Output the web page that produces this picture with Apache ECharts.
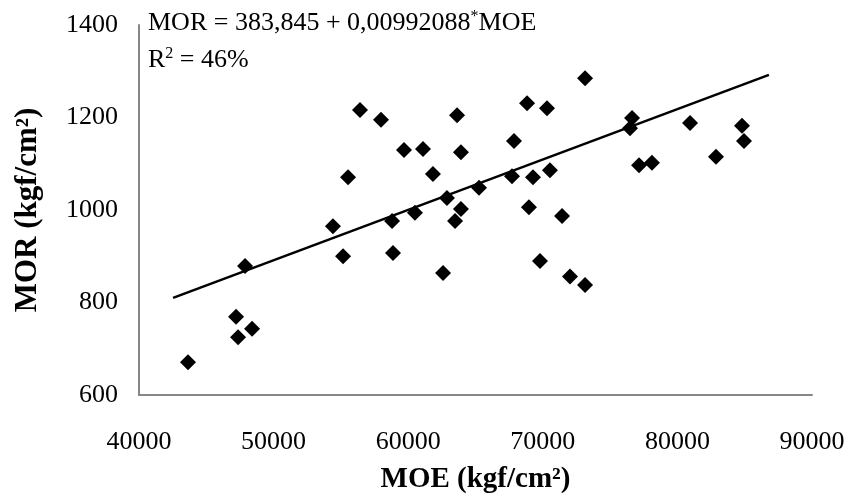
<!DOCTYPE html>
<html>
<head>
<meta charset="utf-8">
<script src="https://cdn.jsdelivr.net/npm/echarts@6/dist/echarts.min.js"></script>
<style>html,body{margin:0;padding:0;background:#fff}#c{width:852px;height:504px}</style>
</head>
<body>
<div id="c"></div>
<script>
// MOE (kgf/cm²) values
const moe = [43640, 47210, 47360, 48400, 47880, 54410, 55160, 55530, 56420, 57980,
  58800, 58870, 59690, 60500, 61100, 61840, 62590, 62880, 63480, 63630,
  63920, 63920, 65260, 67710, 67860, 68830, 68970, 69270, 69790, 70310,
  70530, 71430, 72020, 73140, 73140, 76630, 76480, 77150, 78110, 80940,
  82870, 84800, 84950];
// MOR (kgf/cm²) values
const mor = [671, 769, 725, 743, 879, 965, 900, 1071, 1216, 1195,
  976, 907, 1130, 994, 1132, 1078, 864, 1026, 976, 1205,
  1002, 1125, 1048, 1073, 1149, 1231, 1006, 1071, 890, 1220,
  1086, 987, 856, 838, 1285, 1199, 1177, 1097, 1102, 1188,
  1115, 1182, 1149];
// trend line end points as drawn
const trendX = [42530, 86800];
const trendY = [810, 1292];
const xTicks = [40000, 50000, 60000, 70000, 80000, 90000];
const yTicks = [600, 800, 1000, 1200, 1400];
const equationText = ['MOR = 383,845 + 0,00992088', '*', 'MOE'];
const r2Text = ['R', '2', ' = 46%'];

const font = '"Liberation Serif", "Times New Roman", serif';
const chart = echarts.init(document.getElementById('c'), null, {renderer: 'canvas'});
chart.setOption({
  backgroundColor: '#fff',
  animation: false,
  grid: {left: 139, right: 40, top: 25, bottom: 109, containLabel: false},
  xAxis: {
    type: 'value', min: xTicks[0], max: xTicks[xTicks.length - 1], interval: 10000,
    name: 'MOE (kgf/cm²)', nameLocation: 'middle', nameGap: 70,
    nameTextStyle: {fontFamily: font, fontSize: 29, fontWeight: 'bold', color: '#000'},
    axisLine: {show: true, lineStyle: {color: '#868686', width: 2}},
    axisTick: {show: false},
    splitLine: {show: false},
    axisLabel: {fontFamily: font, fontSize: 26, color: '#000', margin: 34,
      formatter: v => String(v)}
  },
  yAxis: {
    type: 'value', min: yTicks[0], max: yTicks[yTicks.length - 1], interval: 200,
    name: 'MOR (kgf/cm²)', nameLocation: 'middle', nameGap: 96, nameRotate: 90,
    nameTextStyle: {fontFamily: font, fontSize: 31, fontWeight: 'bold', color: '#000'},
    axisLine: {show: true, lineStyle: {color: '#868686', width: 2}},
    axisTick: {show: false},
    splitLine: {show: false},
    axisLabel: {fontFamily: font, fontSize: 26, color: '#000', margin: 21,
      formatter: v => String(v)}
  },
  graphic: [
    {
      type: 'text', left: 148, top: 9,
      style: {
        text: '{n|' + equationText[0] + '}{s|' + equationText[1] + '}{n|' + equationText[2] + '}',
        rich: {
          n: {fontFamily: font, fontSize: 26, fill: '#000'},
          s: {fontFamily: font, fontSize: 16, fill: '#000', padding: [0, 0, 12, 0]}
        }
      }
    },
    {
      type: 'text', left: 148, top: 46,
      style: {
        text: '{n|' + r2Text[0] + '}{s|' + r2Text[1] + '}{n|' + r2Text[2] + '}',
        rich: {
          n: {fontFamily: font, fontSize: 26, fill: '#000'},
          s: {fontFamily: font, fontSize: 16, fill: '#000', padding: [0, 0, 12, 0]}
        }
      }
    }
  ],
  series: [
    {
      type: 'line',
      data: trendX.map((x, i) => [x, trendY[i]]),
      symbol: 'none',
      lineStyle: {color: '#000', width: 2.5},
      z: 2
    },
    {
      type: 'scatter',
      data: moe.map((x, i) => [x, mor[i]]),
      symbol: 'diamond',
      symbolSize: 16,
      itemStyle: {color: '#000', opacity: 1},
      z: 3
    }
  ]
});
</script>
</body>
</html>
